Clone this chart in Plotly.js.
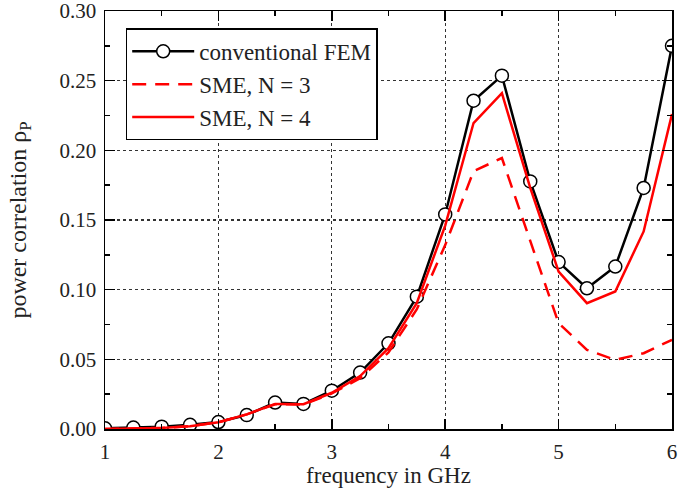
<!DOCTYPE html>
<html>
<head>
<meta charset="utf-8">
<script src="https://cdn.plot.ly/plotly-3.0.1.min.js"></script>
<style>
  html, body { margin: 0; padding: 0; background: #fff; }
  #chart { width: 678px; height: 488px; }
</style>
</head>
<body>
<div id="chart"></div>
<script>
var freq = [1, 1.25, 1.5, 1.75, 2, 2.25, 2.5, 2.75, 3, 3.25, 3.5, 3.75, 4, 4.25, 4.5, 4.75, 5, 5.25, 5.5, 5.75, 6];
var femValues = [0.0005, 0.001, 0.0017, 0.003, 0.005, 0.010, 0.019, 0.018, 0.0275, 0.0405, 0.0615, 0.095, 0.154, 0.2356, 0.2536, 0.1777, 0.1198, 0.101, 0.1166, 0.173, 0.275];
var sme3Values = [0.0, 0.0002, 0.0008, 0.002, 0.0048, 0.0105, 0.0178, 0.0175, 0.0255, 0.0365, 0.055, 0.086, 0.132, 0.185, 0.1945, 0.135, 0.076, 0.0568, 0.0496, 0.0544, 0.064];
var sme4Values = [0.0, 0.0002, 0.0008, 0.002, 0.0048, 0.0105, 0.018, 0.0178, 0.026, 0.038, 0.058, 0.0905, 0.146, 0.2196, 0.241, 0.173, 0.113, 0.0903, 0.0987, 0.1418, 0.226];
var yTickVals = [0, 0.05, 0.10, 0.15, 0.20, 0.25, 0.30];
var yTickText = ["0.00", "0.05", "0.10", "0.15", "0.20", "0.25", "0.30"];
var seriesNames = ["conventional FEM", "SME, N = 3", "SME, N = 4"];
var xTitle = "frequency in GHz";
var yTitle = "power correlation ρ<sub>P</sub>";

var FONT = "Liberation Serif, Times New Roman, serif";

var traces = [
  {
    x: freq, y: femValues, name: seriesNames[0], type: "scatter", mode: "lines+markers",
    line: {color: "#000", width: 2.5},
    marker: {symbol: "circle", size: 13, color: "#fff", line: {color: "#000", width: 1.5}},
    legendrank: 1
  },
  {
    x: freq, y: sme3Values, name: seriesNames[1], type: "scatter", mode: "lines",
    line: {color: "#ff0000", width: 2.5, dash: "14px,9px"},
    legendrank: 2
  },
  {
    x: freq, y: sme4Values, name: seriesNames[2], type: "scatter", mode: "lines",
    line: {color: "#ff0000", width: 2.5},
    legendrank: 3
  }
];

var axisCommon = {
  showline: true, linecolor: "#000", linewidth: 1.5, mirror: "ticks",
  ticks: "inside", ticklen: 10, tickwidth: 1.5, tickcolor: "#000",
  showgrid: true, gridcolor: "#333", gridwidth: 1.2, griddash: "dot",
  zeroline: false, ticklabeloverflow: "allow",
  tickfont: {family: FONT, size: 21, color: "#222"}
};

var layout = {
  width: 678, height: 488,
  margin: {l: 105, r: 6, t: 11, b: 59},
  paper_bgcolor: "#fff", plot_bgcolor: "#fff",
  font: {family: FONT, color: "#222"},
  showlegend: true,
  legend: {
    x: 0.0365, y: 0.9586, xanchor: "left", yanchor: "top",
    bgcolor: "#fff", bordercolor: "#000", borderwidth: 1.5,
    font: {family: FONT, size: 23, color: "#222"},
    itemwidth: 62,
    tracegroupgap: 0
  },
  xaxis: Object.assign({}, axisCommon, {
    range: [1, 6], dtick: 1, tick0: 1,
    ticklabelstandoff: 3,
    minor: {dtick: 0.5, ticks: "inside", ticklen: 5, tickwidth: 1.5, tickcolor: "#000", showgrid: false},
    title: {text: xTitle, font: {family: FONT, size: 23, color: "#222"}, standoff: 4}
  }),
  yaxis: Object.assign({}, axisCommon, {
    range: [0, 0.30], tickmode: "array", tickvals: yTickVals, ticktext: yTickText,
    ticklabelstandoff: 3,
    minor: {tickmode: "linear", tick0: 0, dtick: 0.025, ticks: "inside", ticklen: 5, tickwidth: 1.5, tickcolor: "#000", showgrid: false},
    title: {text: yTitle, font: {family: FONT, size: 24, color: "#222"}, standoff: 26}
  })
};

Plotly.newPlot("chart", traces, layout, {displayModeBar: false, staticPlot: true});
</script>
</body>
</html>
